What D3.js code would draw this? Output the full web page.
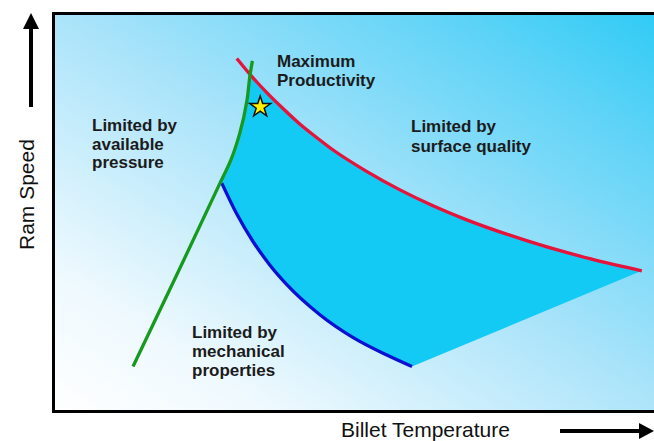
<!DOCTYPE html>
<html>
<head>
<meta charset="utf-8">
<script src="https://cdn.jsdelivr.net/npm/d3@7"></script>
<style>
  html, body { margin: 0; padding: 0; background: #fff; }
  svg { display: block; }
</style>
</head>
<body>
<div id="chart"></div>
<script>
// limit curves, in % of the temperature / ram speed range
const redT   = [30.3, 32.5, 35.3, 38.0, 40.8, 43.6, 46.3, 52.0, 57.5, 63.0, 68.2, 78.2, 89.3, 97.8];
const redV   = [88.8, 84.8, 80.2, 76.2, 72.3, 68.9, 65.8, 60.3, 55.7, 51.7, 48.4, 43.1, 38.3, 35.3];
const greenT = [13.0, 20.3, 27.5, 29.3, 30.8, 32.0, 32.5, 32.9];
const greenV = [11.2, 34.3, 57.4, 63.2, 70.0, 78.3, 84.6, 88.2];
const blueT  = [27.8, 30.3, 33.0, 35.8, 38.6, 44.2, 49.7, 55.3, 59.5];
const blueV  = [57.4, 49.6, 42.7, 36.8, 31.9, 24.2, 18.5, 14.1, 11.2];
const star   = [34.2, 76.6];

const axisX = "Billet Temperature";
const axisY = "Ram Speed";
const lblPressure = ["Limited by", "available", "pressure"];
const lblSurface  = ["Limited by", "surface quality"];
const lblMech     = ["Limited by", "mechanical", "properties"];
const lblMax      = ["Maximum", "Productivity"];

const width = 654, height = 441;
const svg = d3.select('#chart').append('svg')
    .attr('width', width)
    .attr('height', height);

const x = d3.scaleLinear().domain([0, 100]).range([55, 655]);
const y = d3.scaleLinear().domain([0, 100]).range([411, 14]);

const defs = svg.append('defs');
const grad = defs.append('linearGradient')
    .attr('id', 'bg')
    .attr('x1', 0).attr('y1', 1).attr('x2', 1).attr('y2', 0);
[[0, '#ffffff'], [0.18, '#eef9fe'], [0.5, '#abe4fa'], [0.8, '#62d4f7'], [1, '#2ccaf5']].forEach(s => {
    grad.append('stop').attr('offset', s[0]).attr('stop-color', s[1]);
});

// plot frame (runs off the right side)
svg.append('rect')
    .attr('x', 53.5).attr('y', 13.5)
    .attr('width', 620).attr('height', 398)
    .attr('fill', 'url(#bg)')
    .attr('stroke', '#000')
    .attr('stroke-width', 3);

const pts = (ts, vs) => ts.map((t, i) => [t, vs[i]]);
const red = pts(redT, redV), green = pts(greenT, greenV), blue = pts(blueT, blueV);

const lineX = d3.line()
    .x(d => x(d[0]))
    .y(d => y(d[1]))
    .curve(d3.curveMonotoneX);
const lineY = d3.line()
    .x(d => x(d[0]))
    .y(d => y(d[1]))
    .curve(d3.curveMonotoneY);

// working window: under red, right of green, above blue
const redPart = red.slice(1);
const greenPart = green.slice(2, 7);
const blueEnd = blue[blue.length - 1];
const area = lineX(redPart) +
    'L' + x(blueEnd[0]) + ',' + y(blueEnd[1]) +
    lineX(blue.slice().reverse()).replace(/^M/, 'L') +
    lineY(greenPart).replace(/^M/, 'L') + 'Z';

svg.append('path')
    .attr('d', area)
    .attr('fill', '#12caf4');

svg.append('path').attr('d', lineX(blue))
    .attr('fill', 'none').attr('stroke', '#0a10d2').attr('stroke-width', 3.3);
svg.append('path').attr('d', lineX(red))
    .attr('fill', 'none').attr('stroke', '#e6133a').attr('stroke-width', 3.3);
svg.append('path').attr('d', lineY(green))
    .attr('fill', 'none').attr('stroke', '#169a1c').attr('stroke-width', 3.3);

const starR = 11;
svg.append('path')
    .attr('d', d3.symbol(d3.symbolStar).size(starR * starR / 0.8908130915292852)())
    .attr('transform', `translate(${x(star[0])},${y(star[1])})`)
    .attr('fill', '#fff200')
    .attr('stroke', '#111')
    .attr('stroke-width', 1.5);

// labels
function block(lines, px, py, lh) {
    const t = svg.append('text')
        .attr('font-family', 'Liberation Sans, Arial, sans-serif')
        .attr('font-weight', 'bold')
        .attr('font-size', 17)
        .attr('fill', '#1b1b1b');
    t.selectAll('tspan')
        .data(lines)
        .enter()
        .append('tspan')
        .attr('x', px)
        .attr('y', (d, i) => py + i * lh)
        .text(d => d);
}
block(lblMax, 277, 67, 19);
block(lblPressure, 92, 131, 18.5);
block(lblSurface, 411, 132, 19.5);
block(lblMech, 192, 338, 19);

// axis titles + arrows
svg.append('text')
    .attr('x', 341).attr('y', 437)
    .attr('font-family', 'Liberation Sans, Arial, sans-serif')
    .attr('font-size', 21)
    .attr('fill', '#111')
    .text(axisX);

svg.append('text')
    .attr('transform', 'translate(34,250) rotate(-90)')
    .attr('font-family', 'Liberation Sans, Arial, sans-serif')
    .attr('font-size', 21)
    .attr('fill', '#111')
    .text(axisY);

svg.append('line')
    .attr('x1', 31).attr('y1', 107).attr('x2', 31).attr('y2', 26)
    .attr('stroke', '#000').attr('stroke-width', 4);
svg.append('path')
    .attr('d', 'M23,29L31,13L39,29Z')
    .attr('fill', '#000');

svg.append('line')
    .attr('x1', 560).attr('y1', 431).attr('x2', 642).attr('y2', 431)
    .attr('stroke', '#000').attr('stroke-width', 4);
svg.append('path')
    .attr('d', 'M639,423L654,431L639,439Z')
    .attr('fill', '#000');
</script>
</body>
</html>
